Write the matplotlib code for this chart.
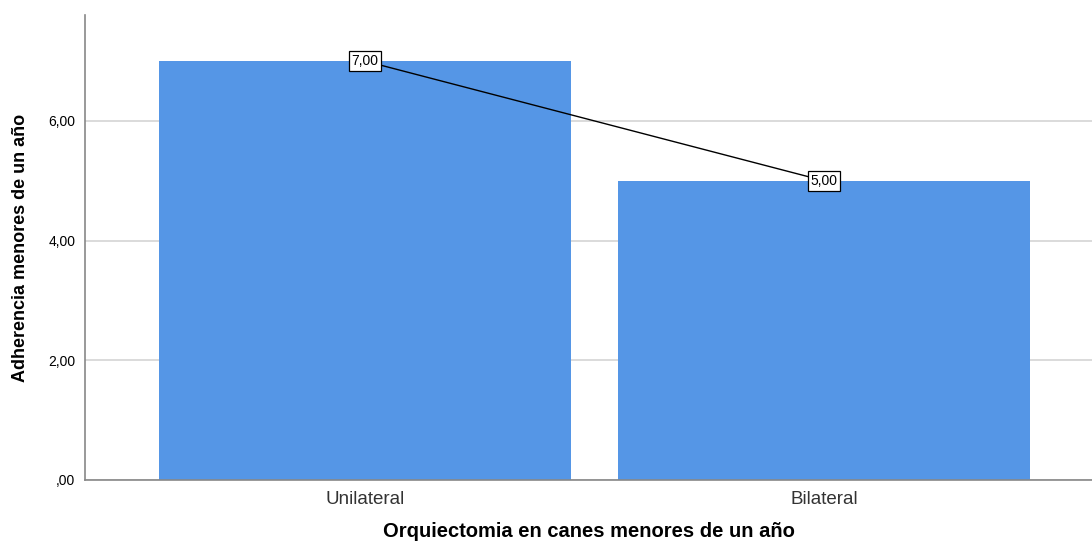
import matplotlib
matplotlib.use("Agg")
import matplotlib.pyplot as plt

categories = ["Unilateral", "Bilateral"]
values = [7.0, 5.0]
yticks = [0, 2, 4, 6]
ytick_labels = [",00", "2,00", "4,00", "6,00"]
value_labels = ["7,00", "5,00"]

plt.rcParams['font.family'] = ['Liberation Sans', 'DejaVu Sans']

fig = plt.figure(figsize=(10.92, 5.41), dpi=100)
ax = fig.add_axes([0.0778, 0.1128, 0.9222, 0.8595])

x = list(range(len(categories)))
ax.bar(x, values, width=0.898, color="#5596e6", zorder=2)
ax.plot(x, values, color="black", linewidth=1, zorder=3)
for xi, v, lab in zip(x, values, value_labels):
    ax.text(xi, v, lab, ha="center", va="center", fontsize=10, zorder=4,
            bbox=dict(boxstyle="square,pad=0.2", facecolor="white", edgecolor="black", linewidth=0.9))

ax.set_xlim(-0.61, 1.584)
ax.set_ylim(0, 7.77)
ax.set_yticks(yticks)
ax.set_yticklabels(ytick_labels, fontsize=10)
ax.set_xticks(x)
ax.set_xticklabels(categories, fontsize=13.5, color="#333333")
ax.tick_params(axis="both", length=0)
ax.tick_params(axis="x", pad=8)
ax.tick_params(axis="y", pad=7)
ax.yaxis.grid(True, color="#d4d4d4", linewidth=1.2, zorder=0)
ax.set_axisbelow(True)
for s in ["top", "right"]:
    ax.spines[s].set_visible(False)
for s in ["left", "bottom"]:
    ax.spines[s].set_color("#888888")
    ax.spines[s].set_linewidth(1.2)

ax.set_ylabel("Adherencia menores de un año", fontsize=13, fontweight="bold", labelpad=14)
ax.set_xlabel("Orquiectomia en canes menores de un año", fontsize=14.5, fontweight="bold", labelpad=10)

fig.savefig("out.png", dpi=100)
